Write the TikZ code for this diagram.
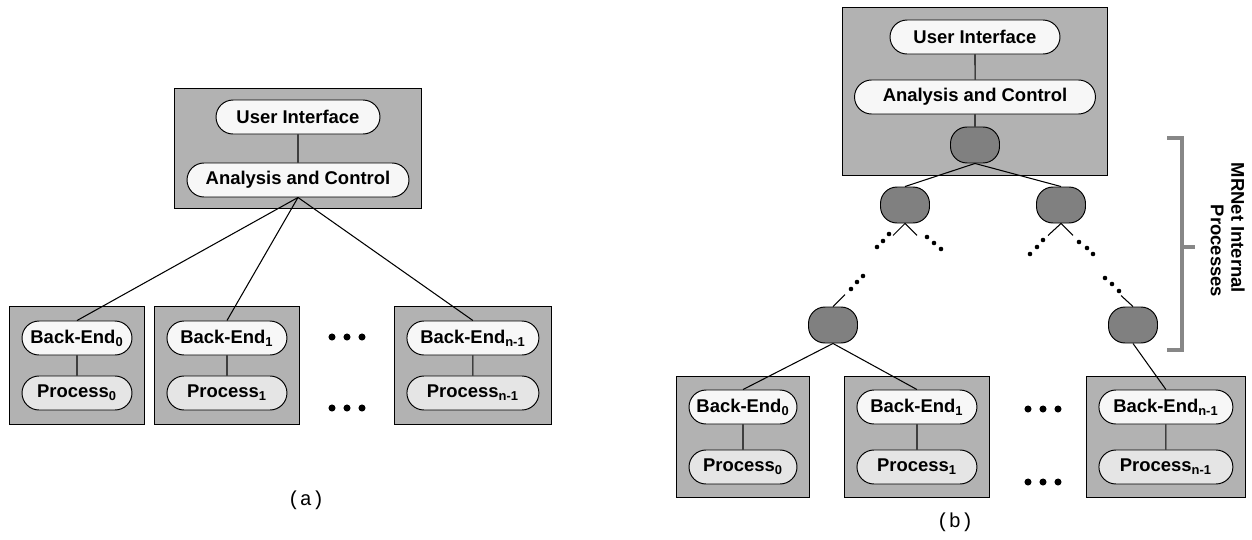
\documentclass[tikz,border=0pt]{standalone}
\usepackage{fontspec}
\setmainfont{Liberation Sans}
\newfontfamily\capfont{Liberation Mono}
\usepackage{tikz}
\usetikzlibrary{shapes.misc,fit,backgrounds}

\newcommand{\pilltext}{\fontsize{10.5}{12}\selectfont\bfseries}
\tikzstyle{host} = [rectangle, draw, fill=black!30, line width=0.6pt,
    inner xsep=0.24cm, inner ysep=0.28cm]
\tikzstyle{pill} = [rounded rectangle, draw, fill=black!3, line width=0.55pt,
    font=\pilltext, minimum height=0.68cm, inner sep=0pt]
\tikzstyle{procpill} = [pill, fill=black!10]
\tikzstyle{relay} = [rectangle, draw, fill=black!50, rounded corners=0.33cm,
    minimum width=0.98cm, minimum height=0.72cm, line width=0.55pt]
\tikzstyle{line} = [draw, line width=0.6pt]
\tikzstyle{bracket} = [draw=black!47, line width=2.4pt]
\tikzstyle{caption} = [font=\capfont\fontsize{11.5}{13}\selectfont]

\begin{document}
\begin{tikzpicture}[x=0.02cm, y=-0.02cm, node distance=1.1cm]
    \useasboundingbox (0,0) rectangle (1252,539);

    % (a) tool front-end talking to every back-end
    \node [pill, minimum width=3.28cm] (uiA) at (298,117) {User Interface};
    \node [pill, minimum width=4.44cm, below of=uiA, node distance=1.26cm] (acA) {Analysis and Control};
    \node [pill, minimum width=2.2cm] (beA0) at (77,338) {Back-End\textsubscript{0}};
    \node [procpill, minimum width=2.2cm, below of=beA0] (pA0) {Process\textsubscript{0}};
    \node [pill, minimum width=2.4cm, right of=beA0, node distance=3cm] (beA1) {Back-End\textsubscript{1}};
    \node [procpill, minimum width=2.4cm, below of=beA1] (pA1) {Process\textsubscript{1}};
    \node [pill, minimum width=2.64cm, right of=beA1, node distance=4.92cm] (beAn) {Back-End\textsubscript{n-1}};
    \node [procpill, minimum width=2.64cm, below of=beAn] (pAn) {Process\textsubscript{n-1}};

    % (b) same tool with the MRNet tree in between
    \node [pill, minimum width=3.4cm] (uiB) at (975,37) {User Interface};
    \node [pill, minimum width=4.82cm, below of=uiB, node distance=1.2cm] (acB) {Analysis and Control};
    \node [relay, below of=acB, node distance=0.96cm] (rootB) {};
    \node [relay] (midL) at (905,205) {};
    \node [relay] (midR) at (1061,205) {};
    \node [relay] (lowL) at (833,325) {};
    \node [relay] (lowR) at (1133,325) {};
    \node [pill, minimum width=2.16cm] (beB0) at (743,407) {Back-End\textsubscript{0}};
    \node [procpill, minimum width=2.16cm, below of=beB0, node distance=1.2cm] (pB0) {Process\textsubscript{0}};
    \node [pill, minimum width=2.4cm, right of=beB0, node distance=3.48cm] (beB1) {Back-End\textsubscript{1}};
    \node [procpill, minimum width=2.4cm, below of=beB1, node distance=1.2cm] (pB1) {Process\textsubscript{1}};
    \node [pill, minimum width=2.68cm, right of=beB1, node distance=4.98cm] (beBn) {Back-End\textsubscript{n-1}};
    \node [procpill, minimum width=2.68cm, below of=beBn, node distance=1.2cm] (pBn) {Process\textsubscript{n-1}};

    % gray host boxes behind the pills
    \begin{scope}[on background layer]
        \node [host, fit=(uiA)(acA), inner ysep=0.22cm] (hostA) {};
        \node [host, fit=(beA0)(pA0)] (boxA0) {};
        \node [host, fit=(beA1)(pA1)] (boxA1) {};
        \node [host, fit=(beAn)(pAn)] (boxAn) {};
        \node [host, fit=(uiB)(acB)(rootB), inner ysep=0.25cm] (hostB) {};
        \node [host, fit=(beB0)(pB0), inner ysep=0.26cm] (boxB0) {};
        \node [host, fit=(beB1)(pB1), inner ysep=0.26cm] (boxB1) {};
        \node [host, fit=(beBn)(pBn), inner ysep=0.26cm] (boxBn) {};
    \end{scope}

    % Draw edges
    \path [line] (uiA) -- (acA);
    \path [line] (acA.south) -- (beA0.north);
    \path [line] (acA.south) -- (beA1.north);
    \path [line] (acA.south) -- (beAn.north);
    \path [line] (beA0) -- (pA0);
    \path [line] (beA1) -- (pA1);
    \path [line] (beAn) -- (pAn);

    \path [line] (uiB) -- (acB);
    \path [line] (acB) -- (rootB);
    \path [line] (rootB.south) -- (midL.north);
    \path [line] (rootB.south) -- (midR.north);
    \path [line] (midL.south) -- ++(-12,12);
    \path [line] (midL.south) -- ++(12,12);
    \path [line] (midR.south) -- ++(-13,12);
    \path [line] (midR.south) -- ++(12,12);
    \path [line] (lowL.north) -- ++(12,-12);
    \path [line] (lowR.north) -- ++(-12,-11);
    \path [line] (lowL.south) -- (beB0.north);
    \path [line] (lowL.south) -- (beB1.north);
    \path [line] (lowR.south) -- (beBn.north);
    \path [line] (beB0) -- (pB0);
    \path [line] (beB1) -- (pB1);
    \path [line] (beBn) -- (pBn);

    % elided back-ends and tree levels
    \foreach \dx in {-15,0,15} {
        \fill (347+\dx,337) circle [radius=2pt];
        \fill (347+\dx,408) circle [radius=2pt];
        \fill (1043+\dx,409) circle [radius=2pt];
        \fill (1043+\dx,482) circle [radius=2pt];
    }
    \foreach \p in {(889,234),(883,241),(877,247),(927,237),(934,243),(941,249),
                    (1043,240),(1037,247),(1030,254),(1079,242),(1087,248),(1093,254),
                    (851,289),(857,282),(863,276),(1119,291),(1112,284),(1105,278)}
        \fill \p circle [radius=1.3pt];

    % bracket over the internal processes
    \draw [bracket] (1167,138) -- (1182,138) -- (1182,350) -- (1167,350);
    \draw [bracket] (1182,247) -- (1195,247);
    \node [rotate=-90, font=\pilltext] (mrnetLbl) at (1238,228) {MRNet Internal};
    \node [rotate=-90, font=\pilltext] (procLbl) at (1217,251) {Processes};

    \node [caption] (capA) at (306,500) {(a)};
    \node [caption] (capB) at (955,522) {(b)};
\end{tikzpicture}
\end{document}
